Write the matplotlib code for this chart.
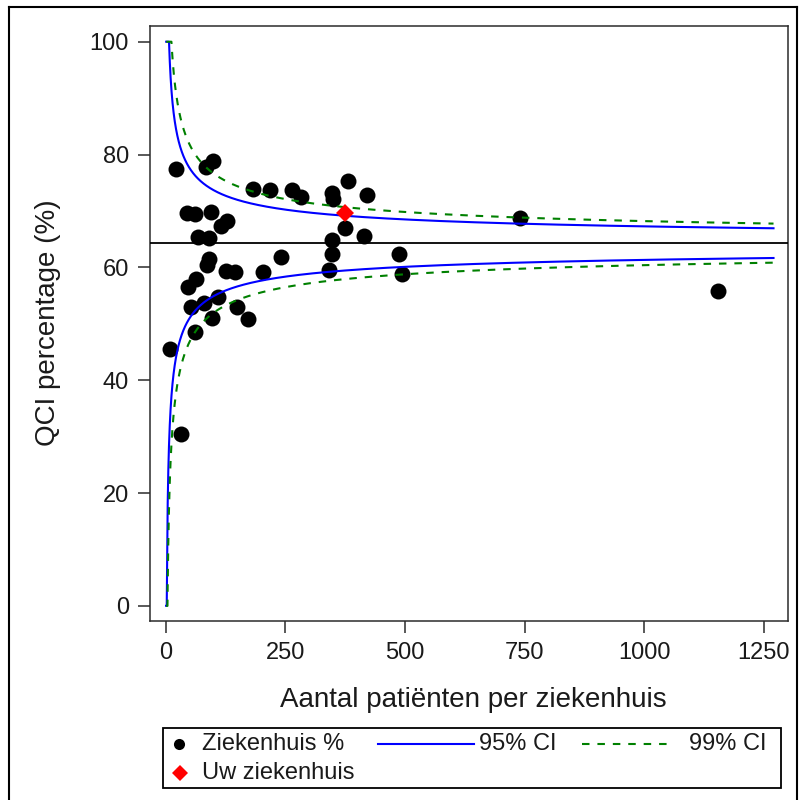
import numpy as np
import matplotlib
matplotlib.use("Agg")
import matplotlib.pyplot as plt
from matplotlib.lines import Line2D
from matplotlib.patches import Rectangle

plt.rcParams["font.family"] = ["Liberation Sans", "DejaVu Sans"]

# Hospital volumes (patients) and QCI percentages
patients = [21, 98, 84, 183, 218, 44, 61, 95, 128, 116, 68, 90, 91, 86, 126,
            145, 204, 240, 63, 47, 52, 110, 79, 96, 148, 171, 61, 9, 32, 263,
            282, 347, 350, 380, 421, 375, 415, 347, 347, 341, 488, 494, 740,
            1155]
qci_pct = [77.4, 78.9, 77.8, 73.9, 73.7, 69.6, 69.4, 69.9, 68.2, 67.3, 65.3,
           65.2, 61.4, 60.4, 59.4, 59.2, 59.1, 61.8, 57.9, 56.5, 53.0, 54.7,
           53.7, 51.0, 53.0, 50.8, 48.6, 45.6, 30.4, 73.7, 72.4, 73.1, 72.2,
           75.4, 72.8, 66.9, 65.6, 64.8, 62.4, 59.5, 62.3, 58.9, 68.7, 55.9]

# The highlighted hospital
own_patients = [375]
own_qci = [69.7]

# Overall benchmark and funnel settings
benchmark = 64.3
z_95 = 1.96
z_99 = 2.576
n_max = 1270

x_ticks = [0, 250, 500, 750, 1000, 1250]
y_ticks = [0, 20, 40, 60, 80, 100]

W, H = 799, 800
fig = plt.figure(figsize=(W / 100, H / 100), dpi=100)
fig.patch.set_facecolor("white")


def fx(px):
    return px / W


def fy(py):
    return 1 - py / H


ax_l, ax_r, ax_t, ax_b = 150.3, 788.3, 25.7, 620.5
ax = fig.add_axes([fx(ax_l), fy(ax_b), (ax_r - ax_l) / W, (ax_b - ax_t) / H])

# Funnel limits around the benchmark
n = np.unique(np.concatenate([np.geomspace(1, 60, 1500),
                              np.linspace(1, n_max, 3000)]))
p = benchmark / 100
se = np.sqrt(p * (1 - p) / n) * 100
up95 = np.clip(benchmark + z_95 * se, 0, 100)
lo95 = np.clip(benchmark - z_95 * se, 0, 100)
up99 = np.clip(benchmark + z_99 * se, 0, 100)
lo99 = np.clip(benchmark - z_99 * se, 0, 100)

ax.plot(patients, qci_pct, "o", color="black", markersize=11.5,
        markeredgewidth=0, zorder=2)

blue = "#0000ff"
green = "#008000"
dash = (0, (3.6, 3.8))
ax.plot(n, up95, color=blue, lw=1.5, zorder=3)
ax.plot(n, lo95, color=blue, lw=1.5, zorder=3)
ax.plot(n, up99, color=green, lw=1.5, ls=dash, zorder=3)
ax.plot(n, lo99, color=green, lw=1.5, ls=dash, zorder=3)
ax.axhline(benchmark, color="black", lw=1.3, zorder=3)

ax.plot(own_patients, own_qci, "D", color="#ff0000", markersize=8.8,
        markeredgewidth=0, zorder=4)

ax.set_xlim(-32.2, 1300.9)
ax.set_ylim(-2.59, 102.84)
ax.set_xticks(x_ticks)
ax.set_yticks(y_ticks)
ax.set_xticklabels([str(v) for v in x_ticks])
ax.set_yticklabels([str(v) for v in y_ticks])
for s in ax.spines.values():
    s.set_color("#2b2b2b")
    s.set_linewidth(1.1)
ax.tick_params(direction="out", length=8.5, width=1.1, color="#2b2b2b",
               labelsize=17, pad=7, labelcolor="#1a1a1a")

fig.text(fx(473), fy(700), "Aantal patiënten per ziekenhuis", fontsize=20,
         ha="center", va="center", color="#1a1a1a")
fig.text(fx(48), fy(323), "QCI percentage (%)", fontsize=20, rotation=90,
         ha="center", va="center", color="#1a1a1a")

# Legend panel
lg_l, lg_r, lg_t, lg_b = 162.7, 781.0, 727.7, 788.3
lax = fig.add_axes([fx(lg_l), fy(lg_b), (lg_r - lg_l) / W, (lg_b - lg_t) / H])
lax.set_xlim(lg_l, lg_r)
lax.set_ylim(lg_b, lg_t)
lax.axis("off")
lax.add_patch(Rectangle((lg_l, lg_t), lg_r - lg_l, lg_b - lg_t, fill=False,
                        edgecolor="black", lw=1.3, clip_on=False))
row1, row2 = 744.4, 773.0
lax.plot([178.5], [row1], "o", color="black", markersize=8, markeredgewidth=0)
lax.plot([179.5], [row2], "D", color="#ff0000", markersize=8.5,
         markeredgewidth=0)
lax.plot([377.7, 474.2], [row1, row1], color=blue, lw=1.5)
lax.plot([582, 671], [row1, row1], color=green, lw=1.5, ls=dash)
fs_leg = 17
lax.text(202, row1, "Ziekenhuis %", fontsize=fs_leg, va="center",
         color="#1a1a1a")
lax.text(202, row2, "Uw ziekenhuis", fontsize=fs_leg, va="center",
         color="#1a1a1a")
lax.text(479, row1, "95% CI", fontsize=fs_leg, va="center", color="#1a1a1a")
lax.text(689, row1, "99% CI", fontsize=fs_leg, va="center", color="#1a1a1a")

# Outer frame
for xs, ys in [([9, 9], [0, 7.3]), ([9, 797], [7.3, 7.3]),
               ([797, 797], [7.3, 800])]:
    pass
fig.add_artist(Line2D([fx(9), fx(9)], [fy(800), fy(7.3)], color="black",
                      lw=1.5, transform=fig.transFigure))
fig.add_artist(Line2D([fx(9), fx(797)], [fy(7.3), fy(7.3)], color="black",
                      lw=1.5, transform=fig.transFigure))
fig.add_artist(Line2D([fx(797), fx(797)], [fy(7.3), fy(800)], color="black",
                      lw=1.5, transform=fig.transFigure))

fig.savefig("out.png", dpi=100, facecolor="white")
